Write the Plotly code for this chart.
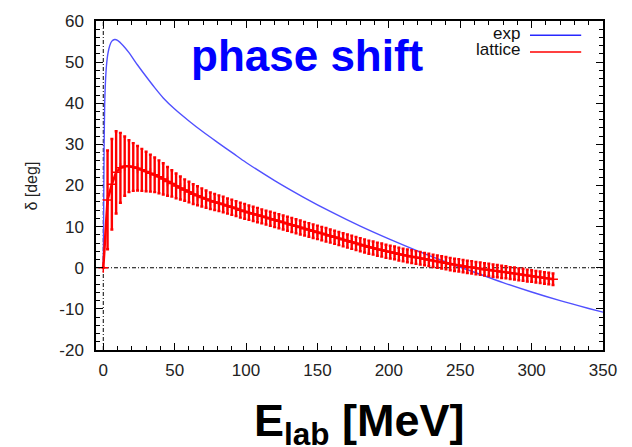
import plotly.graph_objects as go

# Experimental phase shift curve (E_lab in MeV, delta in degrees)
exp_E = [0, 0.3, 0.6, 1.0, 1.5, 2.2, 3.2, 4.5, 6.0, 8.0, 10, 14, 18, 24, 30,
         36, 42, 50, 60, 70, 80, 91, 100, 120, 140, 160, 180, 200, 220, 240,
         260, 280, 300, 320, 340, 350]
exp_delta = [0, 15, 30, 40, 45, 49, 52, 54, 55.1, 55.5, 55.3, 54.0, 52.3, 49.3, 46.5,
             43.8, 41.3, 38.6, 35.7, 33.0, 30.5, 27.8, 25.6, 21.2, 17.2, 13.5, 10.1, 7.0, 4.1, 1.4,
             -1.1, -3.6, -5.9, -8.0, -9.9, -10.8]

# Lattice results with statistical errors
lat_E = [0, 3, 6, 9, 12, 15, 18, 21, 24, 27, 30, 33, 36, 39, 42, 45, 48, 51, 54, 57,
         60, 63, 66, 69, 72, 75, 78, 81, 84, 87, 90, 93, 96, 99, 102, 105, 108, 111, 114, 117,
         120, 123, 126, 129, 132, 135, 138, 141, 144, 147, 150, 153, 156, 159, 162, 165, 168, 171, 174, 177,
         180, 183, 186, 189, 192, 195, 198, 201, 204, 207, 210, 213, 216, 219, 222, 225, 228, 231, 234, 237,
         240, 243, 246, 249, 252, 255, 258, 261, 264, 267, 270, 273, 276, 279, 282, 285, 288, 291, 294, 297,
         300, 303, 306, 309, 312, 315]
lat_delta = [0, 16.5, 20.3, 23.2, 24.3, 24.7, 24.7, 24.5, 24.2, 23.8, 23.4, 23.0, 22.6, 22.1, 21.6, 21.0, 20.5, 19.9, 19.4, 18.9,
             18.4, 17.9, 17.5, 17.1, 16.7, 16.3, 16.0, 15.7, 15.4, 15.0, 14.7, 14.4, 14.0, 13.7, 13.4, 13.1, 12.8, 12.5, 12.2, 11.9,
             11.6, 11.3, 11.0, 10.7, 10.4, 10.1, 9.8, 9.5, 9.2, 8.9, 8.6, 8.3, 8.0, 7.7, 7.4, 7.1, 6.8, 6.5, 6.2, 5.9,
             5.6, 5.3, 5.0, 4.8, 4.5, 4.3, 4.0, 3.8, 3.6, 3.3, 3.1, 2.9, 2.7, 2.5, 2.3, 2.1, 1.9, 1.7, 1.5, 1.3,
             1.1, 0.9, 0.7, 0.6, 0.4, 0.2, 0.1, -0.1, -0.2, -0.4, -0.5, -0.7, -0.8, -1.0, -1.1, -1.3, -1.4, -1.6, -1.7, -1.9,
             -2.0, -2.2, -2.3, -2.5, -2.6, -2.8]
lat_err = [0, 12, 11, 10, 8.5, 7.2, 6.3, 5.8, 5.4, 5.1, 4.8, 4.5, 4.2, 4.0, 3.8, 3.5, 3.2, 3.0, 2.8, 2.6,
           2.5, 2.4, 2.3, 2.2, 2.1, 2.0, 1.95, 1.9, 1.9, 1.85, 1.85, 1.8, 1.8, 1.8, 1.75, 1.75, 1.75, 1.7, 1.7, 1.7,
           1.7, 1.7, 1.7, 1.7, 1.7, 1.7, 1.7, 1.65, 1.65, 1.65, 1.65, 1.65, 1.65, 1.6, 1.6, 1.6, 1.6, 1.6, 1.6, 1.6,
           1.6, 1.6, 1.6, 1.6, 1.6, 1.6, 1.6, 1.55, 1.55, 1.55, 1.55, 1.55, 1.55, 1.55, 1.55, 1.5, 1.5, 1.5, 1.5, 1.5,
           1.5, 1.5, 1.5, 1.5, 1.5, 1.5, 1.5, 1.5, 1.5, 1.5, 1.5, 1.5, 1.5, 1.5, 1.45, 1.45, 1.45, 1.45, 1.45, 1.45,
           1.4, 1.4, 1.4, 1.4, 1.4, 1.4]

x_ticks = [0, 50, 100, 150, 200, 250, 300, 350]
y_ticks = [-20, -10, 0, 10, 20, 30, 40, 50, 60]

BLUE = "rgb(80,80,255)"
RED = "rgb(255,0,0)"
FONT = "Liberation Sans, Arial, sans-serif"

fig = go.Figure()

# zero reference lines
fig.add_trace(go.Scatter(x=[0, 0], y=[-20, 60], mode="lines",
                         line=dict(color="black", width=1, dash="4px,2px,1px,2px"),
                         showlegend=False, hoverinfo="skip"))
fig.add_trace(go.Scatter(x=[-5.1, 350], y=[0, 0], mode="lines",
                         line=dict(color="black", width=1, dash="4px,2px,1px,2px"),
                         showlegend=False, hoverinfo="skip"))

fig.add_trace(go.Scatter(x=exp_E, y=exp_delta, mode="lines", name="exp",
                         line=dict(color=BLUE, width=1.4, shape="spline", smoothing=0.8),
                         showlegend=False))

fig.add_trace(go.Scatter(x=lat_E, y=lat_delta, mode="lines+markers", name="lattice",
                         line=dict(color=RED, width=2.5),
                         marker=dict(symbol="cross-thin", size=7, color=RED,
                                     line=dict(color=RED, width=1.5)),
                         error_y=dict(type="data", array=lat_err, visible=True,
                                      color=RED, thickness=2.4, width=1.5),
                         showlegend=False))

# key: label text right-aligned, sample line to the right
key_items = [("exp", "rgb(40,40,255)", 0.963), ("lattice", RED, 0.912)]
for label, col, yy in key_items:
    fig.add_annotation(x=0.838, y=yy, xref="paper", yref="paper", text=label,
                       showarrow=False, xanchor="right", yanchor="middle",
                       borderpad=0, font=dict(family=FONT, size=17, color="#111"))
    fig.add_shape(type="line", xref="paper", yref="paper", x0=0.856, x1=0.957,
                  y0=yy - 0.006, y1=yy - 0.006, line=dict(color=col, width=1.5))

fig.add_annotation(x=0.418, y=0.895, xref="paper", yref="paper", text="<b>phase shift</b>",
                   showarrow=False, xanchor="center", yanchor="middle",
                   font=dict(family=FONT, size=44, color="rgb(0,0,255)"))

fig.add_annotation(x=0.519, y=-0.222, xref="paper", yref="paper",
                   text="<b>E<sub>lab</sub> [MeV]</b>",
                   showarrow=False, xanchor="center", yanchor="middle",
                   font=dict(family=FONT, size=45, color="black"))

fig.add_annotation(x=-0.128, y=0.497, xref="paper", yref="paper", text="δ [deg]",
                   textangle=-90, showarrow=False, xanchor="center", yanchor="middle",
                   font=dict(family=FONT, size=16, color="#222"))

axis_common = dict(showline=True, linecolor="black", linewidth=1.5, mirror="allticks",
                   ticks="inside", ticklen=7, tickwidth=1, tickcolor="black",
                   showgrid=False, zeroline=False,
                   tickfont=dict(family=FONT, size=17, color="#222"))

fig.update_xaxes(range=[-5.1, 350], tickvals=x_ticks, ticktext=[str(v) for v in x_ticks],
                 ticklabelstandoff=4,
                 minor=dict(ticks="inside", ticklen=4, dtick=10, tick0=0, tickcolor="black",
                            showgrid=False),
                 **axis_common)
fig.update_yaxes(range=[-20, 60], tickvals=y_ticks, ticktext=[str(v) for v in y_ticks],
                 ticklabelstandoff=7,
                 minor=dict(ticks="inside", ticklen=4, dtick=2, tick0=0, tickcolor="black",
                            showgrid=False),
                 **axis_common)

fig.update_layout(width=632, height=447, margin=dict(l=96, r=29, t=15, b=97),
                  plot_bgcolor="white", paper_bgcolor="white", showlegend=False)

fig.write_html("out.html")
